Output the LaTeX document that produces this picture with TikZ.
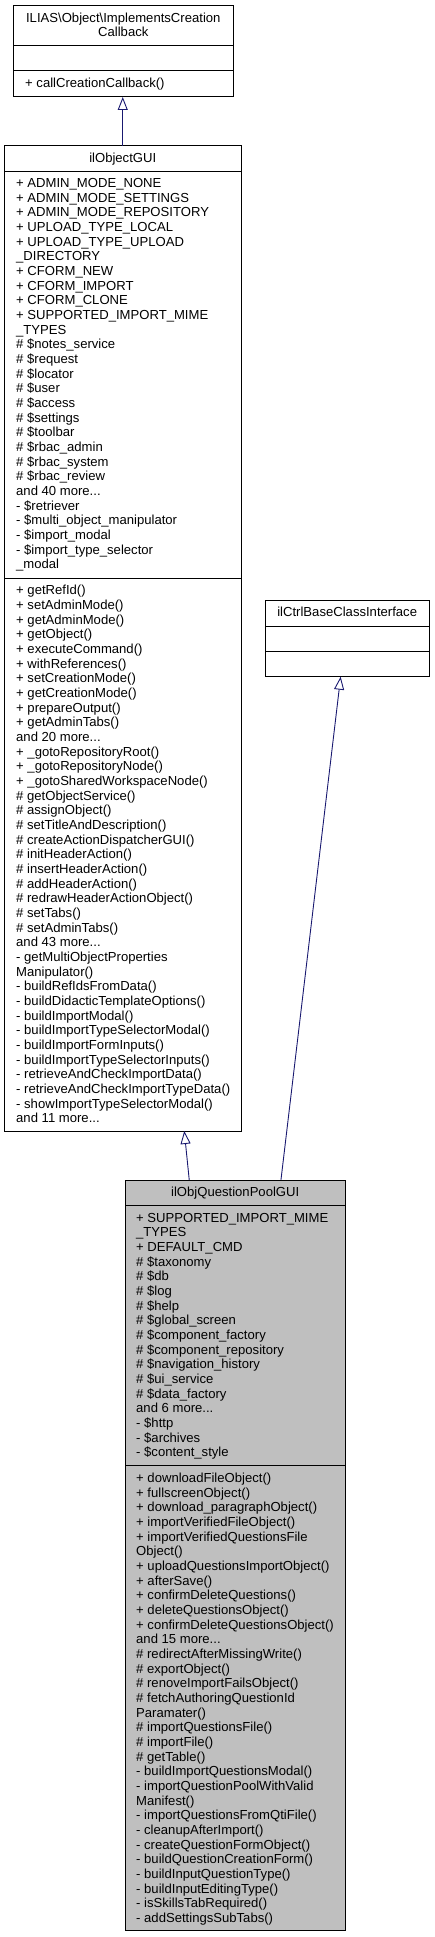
\documentclass[tikz,border=0pt]{standalone}
\usepackage{fontspec}
\setmainfont{Liberation Sans}
\usetikzlibrary{arrows.meta}
\definecolor{edgeblue}{HTML}{191970}
\definecolor{qpfill}{HTML}{BFBFBF}
\newcommand{\threedots}{...}
\tikzset{
  box/.style={draw=black, line width=1pt, fill=white, inner sep=0pt, outer sep=0pt, anchor=north west},
  divline/.style={draw=black, line width=1pt},
  txt/.style={anchor=base west, inner sep=0pt, font=\fontsize{13.1}{14.67}\selectfont, text=black},
  ttl/.style={txt, anchor=base},
  inh/.style={draw=edgeblue, line width=0.9pt, -{Triangle[fill=white, length=13pt, width=10pt]}}
}
\begin{document}
\begin{tikzpicture}[x=1pt,y=-1pt]
\useasboundingbox (0,0) rectangle (435,1937);

% ---- ILIAS\Object\ImplementsCreationCallback
\node[box, minimum width=219.5pt, minimum height=91.3pt] (cb) at (13.5,5.7) {};
\draw[divline] (cb.west |- 0,46) -- (cb.east |- 0,46);
\draw[divline] (cb.west |- 0,71) -- (cb.east |- 0,71);
\node[ttl] (cbt1) at (123.3,22.7) {ILIAS\textbackslash Object\textbackslash ImplementsCreation};
\node[ttl] (cbt2) at (123.3,36.7) {Callback};
\node[txt] (cbm1) at (25,87.7) {+ callCreationCallback()};

% ---- ilObjectGUI
\node[box, minimum width=236.5pt, minimum height=985.3pt] (og) at (4.5,145.7) {};
\draw[divline] (og.west |- 0,171.7) -- (og.east |- 0,171.7);
\draw[divline] (og.west |- 0,578.3) -- (og.east |- 0,578.3);
\node[ttl] (ogt) at (122.75,162.7) {ilObjectGUI};
\foreach \t [count=\i] in {
 {+ ADMIN\_MODE\_NONE},
 {+ ADMIN\_MODE\_SETTINGS},
 {+ ADMIN\_MODE\_REPOSITORY},
 {+ UPLOAD\_TYPE\_LOCAL},
 {+ UPLOAD\_TYPE\_UPLOAD},
 {\_DIRECTORY},
 {+ CFORM\_NEW},
 {+ CFORM\_IMPORT},
 {+ CFORM\_CLONE},
 {+ SUPPORTED\_IMPORT\_MIME},
 {\_TYPES},
 {\# \$notes\_service},
 {\# \$request},
 {\# \$locator},
 {\# \$user},
 {\# \$access},
 {\# \$settings},
 {\# \$toolbar},
 {\# \$rbac\_admin},
 {\# \$rbac\_system},
 {\# \$rbac\_review},
 {and 40 more\threedots},
 {- \$retriever},
 {- \$multi\_object\_manipulator},
 {- \$import\_modal},
 {- \$import\_type\_selector},
 {\_modal}}
  \node[txt] (oga\i) at (16,{187.4+(\i-1)*14.67}) {\t};
\foreach \t [count=\i] in {
 {+ getRefId()},
 {+ setAdminMode()},
 {+ getAdminMode()},
 {+ getObject()},
 {+ executeCommand()},
 {+ withReferences()},
 {+ setCreationMode()},
 {+ getCreationMode()},
 {+ prepareOutput()},
 {+ getAdminTabs()},
 {and 20 more\threedots},
 {+ \_gotoRepositoryRoot()},
 {+ \_gotoRepositoryNode()},
 {+ \_gotoSharedWorkspaceNode()},
 {\# getObjectService()},
 {\# assignObject()},
 {\# setTitleAndDescription()},
 {\# createActionDispatcherGUI()},
 {\# initHeaderAction()},
 {\# insertHeaderAction()},
 {\# addHeaderAction()},
 {\# redrawHeaderActionObject()},
 {\# setTabs()},
 {\# setAdminTabs()},
 {and 43 more\threedots},
 {- getMultiObjectProperties},
 {Manipulator()},
 {- buildRefIdsFromData()},
 {- buildDidacticTemplateOptions()},
 {- buildImportModal()},
 {- buildImportTypeSelectorModal()},
 {- buildImportFormInputs()},
 {- buildImportTypeSelectorInputs()},
 {- retrieveAndCheckImportData()},
 {- retrieveAndCheckImportTypeData()},
 {- showImportTypeSelectorModal()},
 {and 11 more\threedots}}
  \node[txt] (ogm\i) at (16,{594.7+(\i-1)*14.67}) {\t};

% ---- ilCtrlBaseClassInterface
\node[box, minimum width=164.3pt, minimum height=76pt] (ctrl) at (265,600.7) {};
\draw[divline] (ctrl.west |- 0,626) -- (ctrl.east |- 0,626);
\draw[divline] (ctrl.west |- 0,651) -- (ctrl.east |- 0,651);
\node[ttl] (ctrlt) at (347.2,616.7) {ilCtrlBaseClassInterface};

% ---- ilObjQuestionPoolGUI
\node[box, fill=qpfill, minimum width=219.7pt, minimum height=750.7pt] (qp) at (125.3,1180) {};
\draw[divline] (qp.west |- 0,1205.7) -- (qp.east |- 0,1205.7);
\draw[divline] (qp.west |- 0,1465.7) -- (qp.east |- 0,1465.7);
\node[ttl] (qpt) at (235.2,1196.7) {ilObjQuestionPoolGUI};
\foreach \t [count=\i] in {
 {+ SUPPORTED\_IMPORT\_MIME},
 {\_TYPES},
 {+ DEFAULT\_CMD},
 {\# \$taxonomy},
 {\# \$db},
 {\# \$log},
 {\# \$help},
 {\# \$global\_screen},
 {\# \$component\_factory},
 {\# \$component\_repository},
 {\# \$navigation\_history},
 {\# \$ui\_service},
 {\# \$data\_factory},
 {and 6 more\threedots},
 {- \$http},
 {- \$archives},
 {- \$content\_style}}
  \node[txt] (qpa\i) at (136,{1222+(\i-1)*14.67}) {\t};
\foreach \t [count=\i] in {
 {+ downloadFileObject()},
 {+ fullscreenObject()},
 {+ download\_paragraphObject()},
 {+ importVerifiedFileObject()},
 {+ importVerifiedQuestionsFile},
 {Object()},
 {+ uploadQuestionsImportObject()},
 {+ afterSave()},
 {+ confirmDeleteQuestions()},
 {+ deleteQuestionsObject()},
 {+ confirmDeleteQuestionsObject()},
 {and 15 more\threedots},
 {\# redirectAfterMissingWrite()},
 {\# exportObject()},
 {\# renoveImportFailsObject()},
 {\# fetchAuthoringQuestionId},
 {Paramater()},
 {\# importQuestionsFile()},
 {\# importFile()},
 {\# getTable()},
 {- buildImportQuestionsModal()},
 {- importQuestionPoolWithValid},
 {Manifest()},
 {- importQuestionsFromQtiFile()},
 {- cleanupAfterImport()},
 {- createQuestionFormObject()},
 {- buildQuestionCreationForm()},
 {- buildInputQuestionType()},
 {- buildInputEditingType()},
 {- isSkillsTabRequired()},
 {- addSettingsSubTabs()}}
  \node[txt] (qpm\i) at (136,{1482.4+(\i-1)*14.67}) {\t};

% ---- inheritance arrows
\draw[inh] (og.north) -- (og.north |- cb.south);
\draw[inh] ([xshift=-45.9pt]qp.north) -- ([xshift=61.5pt]og.south);
\draw[inh] ([xshift=45.8pt]qp.north) -- ([xshift=-6.5pt]ctrl.south);
\end{tikzpicture}
\end{document}
